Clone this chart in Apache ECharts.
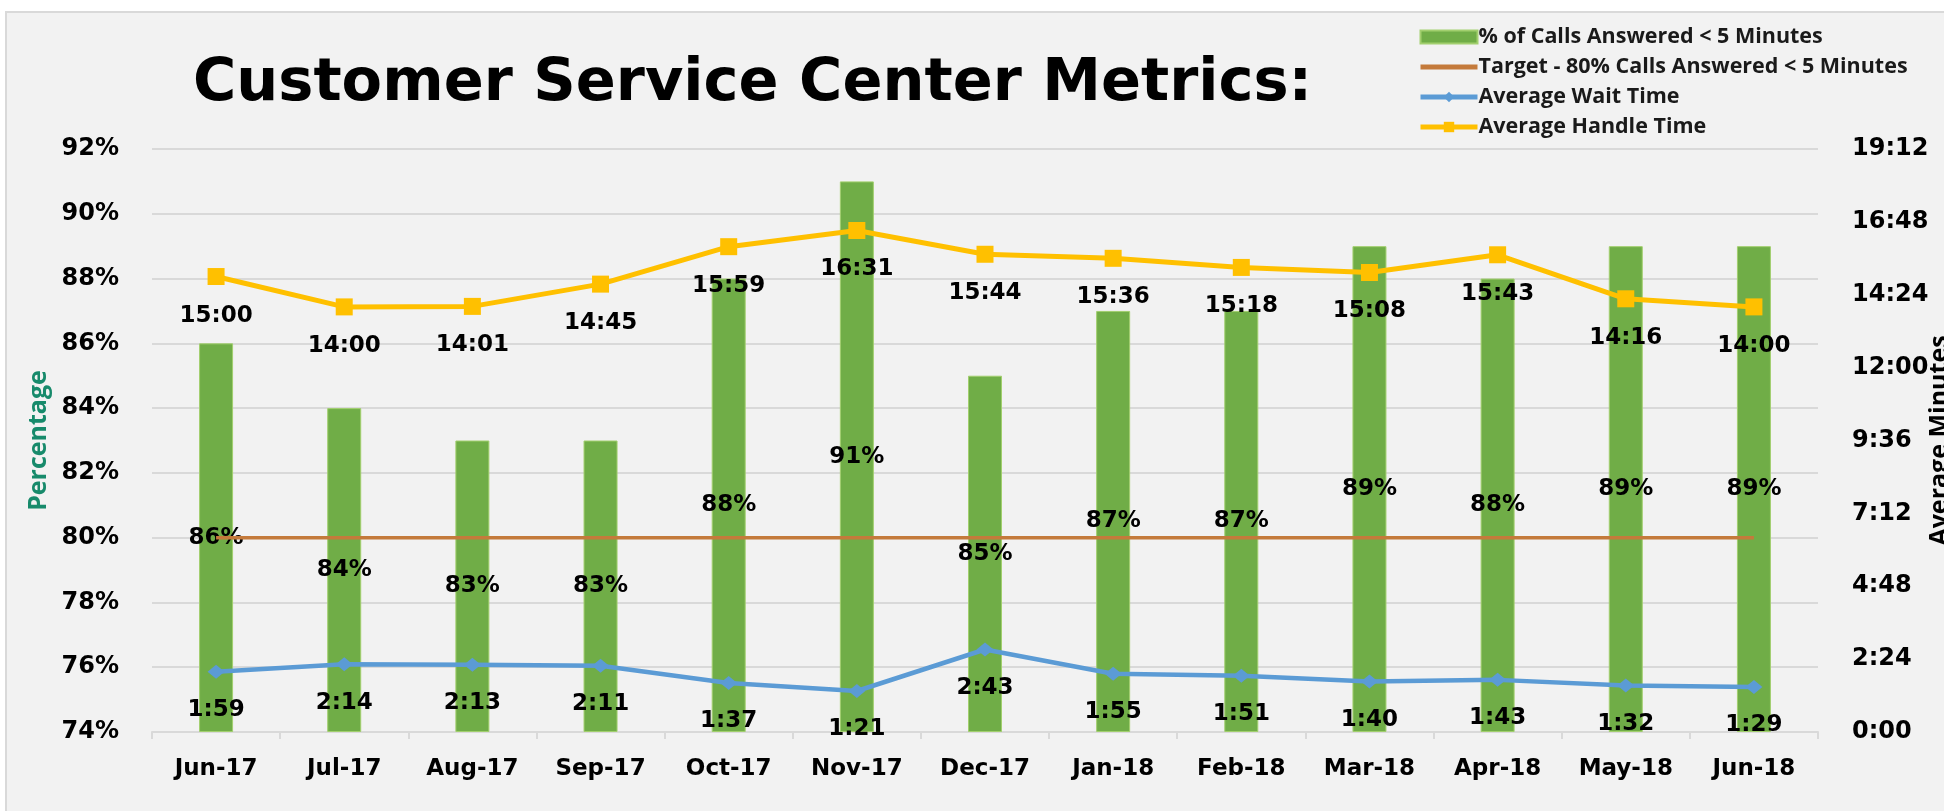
<!DOCTYPE html>
<html>
<head>
<meta charset="utf-8">
<script src="https://cdn.jsdelivr.net/npm/echarts@6/dist/echarts.min.js"></script>
<style>
	html, body { margin: 0; padding: 0; background: #ffffff; }
	#frame { position: absolute; left: 5px; top: 11px; width: 1945px; height: 810px; background: #f2f2f2; border-left: 2px solid #d9d9d9; border-top: 2px solid #d9d9d9; }
	#myChart { position: absolute; left: 0; top: 0; width: 1944px; height: 811px; }
</style>
</head>
<body>
<div id="frame"></div>
<div id="myChart"></div>
<script>
	// data
	var months = ["Jun-17", "Jul-17", "Aug-17", "Sep-17", "Oct-17", "Nov-17", "Dec-17", "Jan-18", "Feb-18", "Mar-18", "Apr-18", "May-18", "Jun-18"];
	var answeredPct = [86, 84, 83, 83, 88, 91, 85, 87, 87, 89, 88, 89, 89];
	var targetPct = [80, 80, 80, 80, 80, 80, 80, 80, 80, 80, 80, 80, 80];
	// times in seconds
	var waitTime = [119, 134, 133, 131, 97, 81, 163, 115, 111, 100, 103, 92, 89];
	var handleTime = [900, 840, 841, 885, 959, 991, 944, 936, 918, 908, 943, 856, 840];

	var labelFont = "DejaVu Sans";

	function mmss(sec) {
		var m = Math.floor(sec / 60);
		var s = Math.round(sec - m * 60);
		return m + ":" + (s < 10 ? "0" + s : s);
	}

	var chart = echarts.init(document.getElementById("myChart"), null, { renderer: "canvas" });

	var option = {
		backgroundColor: "transparent",
		animation: false,
		title: {
			text: "Customer Service Center Metrics:",
			left: 188,
			top: 50,
			textStyle: {
				fontFamily: "DejaVu Sans",
				fontWeight: "bold",
				fontSize: 59,
				color: "#000000"
			}
		},
		legend: {
			orient: "vertical",
			left: 1413,
			top: 21,
			itemWidth: 57,
			itemHeight: 13,
			itemGap: 8,
			textStyle: {
				fontFamily: "Open Sans",
				fontWeight: "bold",
				fontSize: 21.5,
				color: "#1a1a1a",
				padding: [0, 0, 0, -4]
			},
			data: [
				{ name: "% of Calls Answered < 5 Minutes", icon: "rect" },
				{ name: "Target - 80% Calls Answered < 5 Minutes", itemStyle: { opacity: 0 }, lineStyle: { width: 5 } },
				{ name: "Average Wait Time", lineStyle: { width: 5 } },
				{ name: "Average Handle Time", lineStyle: { width: 5 } }
			]
		},
		grid: {
			left: 152,
			right: 126,
			top: 149,
			bottom: 79,
			containLabel: false,
			outerBoundsMode: "none"
		},
		xAxis: [
			{
				type: "category",
				data: months,
				boundaryGap: true,
				axisLine: { lineStyle: { color: "#d9d9d9", width: 2 } },
				axisTick: { show: true, length: 7, lineStyle: { color: "#d9d9d9", width: 2 } },
				axisLabel: {
					margin: 26,
					fontFamily: labelFont,
					fontWeight: "bold",
					fontSize: 23,
					color: "#000000"
				}
			}
		],
		yAxis: [
			{
				type: "value",
				min: 74,
				max: 92,
				interval: 2,
				startValue: 74,
				name: "Percentage",
				nameLocation: "middle",
				nameGap: 101,
				nameMoveOverlap: false,
				nameTextStyle: {
					fontFamily: "Open Sans",
					fontWeight: "bold",
					fontSize: 25,
					color: "#178a6b"
				},
				axisLine: { show: false },
				axisTick: { show: false },
				splitLine: { lineStyle: { color: "#d9d9d9", width: 2 } },
				axisLabel: {
					margin: 33,
					formatter: "{value}%",
					fontFamily: labelFont,
					fontWeight: "bold",
					fontSize: 24,
					color: "#000000"
				}
			},
			{
				type: "value",
				min: 0,
				max: 1152,
				interval: 144,
				name: "Average Minutes",
				nameLocation: "middle",
				nameGap: 109,
				nameMoveOverlap: false,
				nameTextStyle: {
					fontFamily: "Open Sans",
					fontWeight: "bold",
					fontSize: 25,
					color: "#000000"
				},
				axisLine: { show: false },
				axisTick: { show: false },
				splitLine: { show: false },
				axisLabel: {
					margin: 34,
					formatter: function(v) { return mmss(v); },
					fontFamily: labelFont,
					fontWeight: "bold",
					fontSize: 24,
					color: "#000000"
				}
			}
		],
		series: [
			{
				name: "% of Calls Answered < 5 Minutes",
				type: "bar",
				yAxisIndex: 0,
				barWidth: 34,
				clip: true,
				data: answeredPct,
				itemStyle: { color: "#70ad47", borderColor: "#a2cf6e", borderWidth: 1 },
				label: {
					show: true,
					position: "inside",
					formatter: "{c}%",
					fontFamily: labelFont,
					fontWeight: "bold",
					fontSize: 23,
					color: "#000000",
					textBorderWidth: 0
				},
				z: 1
			},
			{
				name: "Target - 80% Calls Answered < 5 Minutes",
				type: "line",
				yAxisIndex: 0,
				data: targetPct,
				symbol: "none",
				lineStyle: { color: "#c47a3b", width: 3.5 },
				itemStyle: { color: "#c47a3b" },
				z: 2
			},
			{
				name: "Average Wait Time",
				type: "line",
				yAxisIndex: 1,
				data: waitTime,
				symbol: "diamond",
				symbolSize: [17, 14],
				lineStyle: { color: "#5b9bd5", width: 4.5 },
				itemStyle: { color: "#5b9bd5" },
				label: {
					show: true,
					position: "bottom",
					distance: 20,
					formatter: function(p) { return mmss(p.value); },
					fontFamily: labelFont,
					fontWeight: "bold",
					fontSize: 23,
					color: "#000000"
				},
				z: 3
			},
			{
				name: "Average Handle Time",
				type: "line",
				yAxisIndex: 1,
				data: handleTime,
				symbol: "rect",
				symbolSize: 17,
				lineStyle: { color: "#ffc000", width: 5 },
				itemStyle: { color: "#ffc000" },
				label: {
					show: true,
					position: "bottom",
					distance: 19,
					formatter: function(p) { return mmss(p.value); },
					fontFamily: labelFont,
					fontWeight: "bold",
					fontSize: 23,
					color: "#000000"
				},
				z: 3
			}
		]
	};

	chart.setOption(option);
	window.addEventListener("resize", function() {
		chart.resize();
	});
</script>
</body>
</html>
